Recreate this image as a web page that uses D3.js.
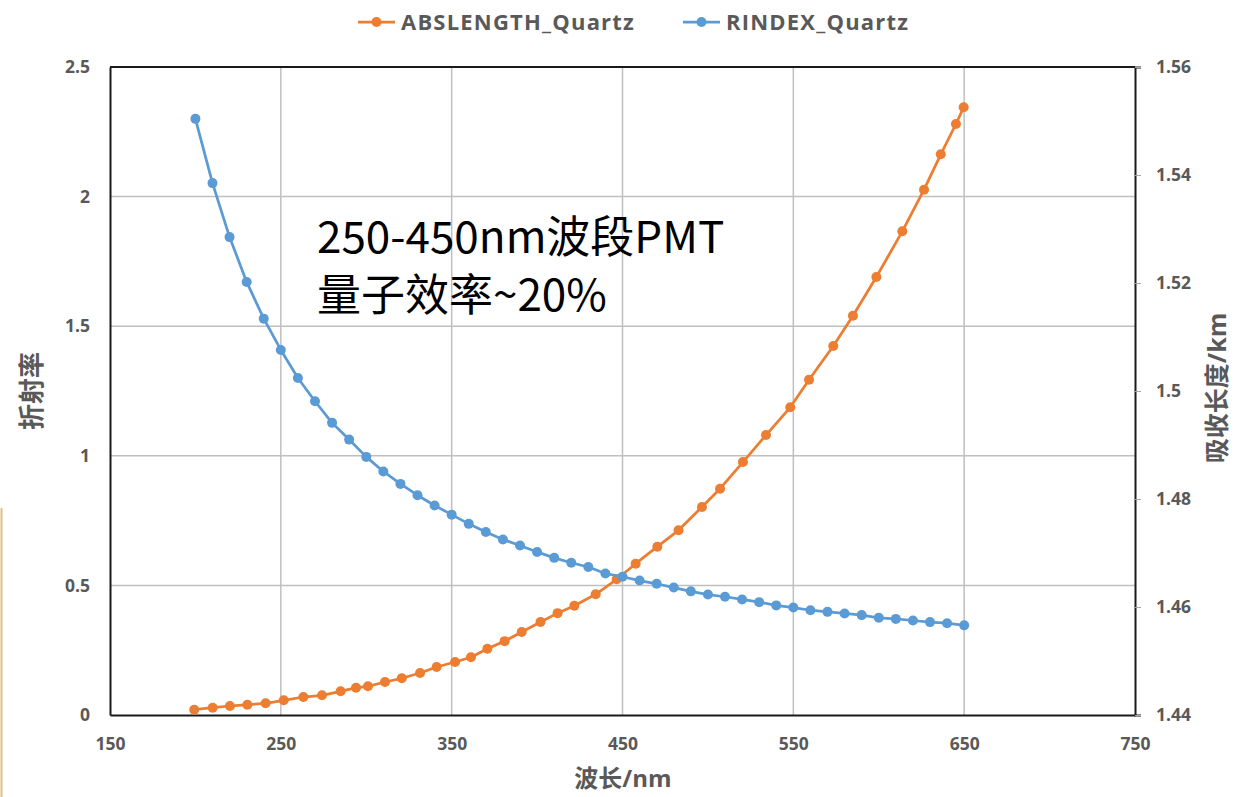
<!DOCTYPE html>
<html>
<head>
<meta charset="utf-8">
<script src="https://cdn.jsdelivr.net/npm/d3@7"></script>
<style>
  html, body { margin: 0; padding: 0; background: #fff; }
  svg { display: block; }
</style>
</head>
<body>
<svg id="chart" width="1237" height="797"></svg>
<script>
// Wavelength grid of the refractive-index table (nm)
const rindexWavelength = [200, 210, 220, 230, 240, 250, 260, 270, 280, 290, 300, 310, 320, 330, 340,
  350, 360, 370, 380, 390, 400, 410, 420, 430, 440, 450, 460, 470, 480, 490, 500, 510, 520, 530,
  540, 550, 560, 570, 580, 590, 600, 610, 620, 630, 640, 650];
// Refractive index of quartz (plotted against the right-hand scale)
const rindexQuartz = [1.5504, 1.5385, 1.5285, 1.5202, 1.5134, 1.5076, 1.5024, 1.4981, 1.4941, 1.4910,
  1.4878, 1.4851, 1.4828, 1.4807, 1.4788, 1.4771, 1.4754, 1.4739, 1.4725, 1.4714, 1.4702, 1.4691,
  1.4682, 1.4674, 1.4662, 1.4656, 1.4649, 1.4643, 1.4636, 1.4629, 1.4623, 1.4619, 1.4614, 1.4609,
  1.4603, 1.4599, 1.4594, 1.4591, 1.4588, 1.4585, 1.4580, 1.4578, 1.4575, 1.4572, 1.4570, 1.4566];

// Wavelength grid of the absorption-length table (nm)
const absWavelength = [199.3, 210.1, 220.2, 230.4, 241.1, 251.7, 263.2, 274.1, 285.0, 294.0, 301.0,
  311.0, 320.8, 331.5, 341.2, 352.0, 361.3, 370.9, 381.0, 391.0, 402.0, 412.0, 421.8, 434.3, 446.6,
  457.7, 470.4, 482.8, 496.5, 507.1, 520.5, 534.0, 548.2, 559.2, 573.4, 584.9, 598.6, 613.8, 626.5,
  636.3, 645.2, 649.7];
// Absorption length of quartz (plotted against the left-hand scale)
const absLengthQuartz = [0.0204, 0.0282, 0.0347, 0.0397, 0.0451, 0.0567, 0.0694, 0.0760, 0.0914,
  0.1053, 0.1107, 0.1273, 0.1416, 0.1620, 0.1852, 0.2045, 0.2226, 0.2558, 0.2850, 0.3200, 0.3590,
  0.3930, 0.4217, 0.4657, 0.5235, 0.5837, 0.6493, 0.7126, 0.8025, 0.8731, 0.9760, 1.0800, 1.1871,
  1.2936, 1.4236, 1.5405, 1.6898, 1.8661, 2.0266, 2.1632, 2.2801, 2.3445];

const xTicks = [150, 250, 350, 450, 550, 650, 750];
const leftTicks = [0, 0.5, 1, 1.5, 2, 2.5];
const rightTicks = [1.44, 1.46, 1.48, 1.5, 1.52, 1.54, 1.56];

const seriesNames = ["ABSLENGTH_Quartz", "RINDEX_Quartz"];
const xTitle = "波长/nm";
const leftTitle = "折射率";
const rightTitle = "吸收长度/km";
const noteLines = ["250-450nm波段PMT", "量子效率~20%"];

const ORANGE = "#ED7D31";
const BLUE = "#5B9BD5";
const AXIS_TEXT = "#595959";
const GRID = "#BFBFBF";
const LABEL_FONT = "'Open Sans', 'Noto Sans CJK SC', sans-serif";

const svg = d3.select("#chart");
const plot = { left: 110, right: 1135, top: 67, bottom: 715 };

const x = d3.scaleLinear().domain([150, 750]).range([plot.left, plot.right]);
const yLeft = d3.scaleLinear().domain([0, 2.5]).range([plot.bottom, plot.top]);
const yRight = d3.scaleLinear().domain([1.44, 1.56]).range([plot.bottom, plot.top]);

// faint edge line at the far left of the canvas
svg.append("line")
  .attr("x1", 1.5).attr("x2", 1.5).attr("y1", 508).attr("y2", 797)
  .attr("stroke", "#E3BE7E").attr("stroke-width", 2);

// gridlines
const grid = svg.append("g");
grid.selectAll("line.v").data(xTicks.slice(1, -1)).join("line")
  .attr("x1", d => x(d)).attr("x2", d => x(d))
  .attr("y1", plot.top).attr("y2", plot.bottom)
  .attr("stroke", GRID).attr("stroke-width", 1.5);
grid.selectAll("line.h").data(leftTicks.slice(1, -1)).join("line")
  .attr("x1", plot.left).attr("x2", plot.right)
  .attr("y1", d => yLeft(d)).attr("y2", d => yLeft(d))
  .attr("stroke", GRID).attr("stroke-width", 1.5);

// axes
const xAxis = svg.append("g")
  .attr("transform", `translate(0,${plot.bottom})`)
  .call(d3.axisBottom(x).tickValues(xTicks).tickSize(0).tickPadding(23));
const leftAxis = svg.append("g")
  .attr("transform", `translate(${plot.left},0)`)
  .call(d3.axisLeft(yLeft).tickValues(leftTicks).tickSize(0).tickPadding(20).tickFormat(d3.format("")));
const rightAxis = svg.append("g")
  .attr("transform", `translate(${plot.right},0)`)
  .call(d3.axisRight(yRight).tickValues(rightTicks).tickSize(6).tickPadding(15).tickFormat(d3.format("")));

[xAxis, leftAxis, rightAxis].forEach(g => {
  g.select(".domain").attr("stroke", "#1a1a1a").attr("stroke-width", 2);
  g.selectAll("text")
    .attr("fill", AXIS_TEXT)
    .style("font-family", LABEL_FONT)
    .style("font-weight", 700)
    .style("font-size", "17.5px");
});
rightAxis.selectAll(".tick line").attr("stroke", "#A6A6A6").attr("stroke-width", 1);
xAxis.selectAll("text").attr("dy", "0.71em");

// top border
svg.append("line")
  .attr("x1", plot.left).attr("x2", plot.right)
  .attr("y1", plot.top).attr("y2", plot.top)
  .attr("stroke", "#1a1a1a").attr("stroke-width", 2);

// series
const absData = absWavelength.map((w, i) => ({ w, v: absLengthQuartz[i] }));
const rindexData = rindexWavelength.map((w, i) => ({ w, v: rindexQuartz[i] }));

function drawSeries(data, yScale, color) {
  const g = svg.append("g");
  g.append("path")
    .datum(data)
    .attr("fill", "none")
    .attr("stroke", color)
    .attr("stroke-width", 2.75)
    .attr("stroke-linejoin", "round")
    .attr("d", d3.line().x(d => x(d.w)).y(d => yScale(d.v)));
  g.selectAll("circle").data(data).join("circle")
    .attr("cx", d => x(d.w)).attr("cy", d => yScale(d.v))
    .attr("r", 5).attr("fill", color);
}
drawSeries(absData, yLeft, ORANGE);
drawSeries(rindexData, yRight, BLUE);

// axis titles
svg.append("text")
  .attr("x", 623).attr("y", 787)
  .attr("text-anchor", "middle")
  .attr("fill", AXIS_TEXT)
  .style("font-family", LABEL_FONT).style("font-weight", 700).style("font-size", "24px")
  .text(xTitle);
svg.append("text")
  .attr("transform", "translate(41,391) rotate(-90)")
  .attr("text-anchor", "middle")
  .attr("fill", AXIS_TEXT)
  .style("font-family", LABEL_FONT).style("font-weight", 700).style("font-size", "26px")
  .text(leftTitle);
svg.append("text")
  .attr("transform", "translate(1226,388) rotate(-90)")
  .attr("text-anchor", "middle")
  .attr("fill", AXIS_TEXT)
  .style("font-family", LABEL_FONT).style("font-weight", 700).style("font-size", "25px")
  .text(rightTitle);

// legend
const legend = [
  { name: seriesNames[0], color: ORANGE, x0: 358 },
  { name: seriesNames[1], color: BLUE, x0: 683 }
];
const lg = svg.append("g");
legend.forEach(item => {
  lg.append("line")
    .attr("x1", item.x0).attr("x2", item.x0 + 37)
    .attr("y1", 22).attr("y2", 22)
    .attr("stroke", item.color).attr("stroke-width", 2.75);
  lg.append("circle")
    .attr("cx", item.x0 + 18.5).attr("cy", 22).attr("r", 5).attr("fill", item.color);
  lg.append("text")
    .attr("x", item.x0 + 43).attr("y", 30)
    .attr("fill", AXIS_TEXT)
    .style("font-family", LABEL_FONT).style("font-weight", 700).style("font-size", "22px")
    .style("letter-spacing", "1.2px")
    .text(item.name);
});

// annotation
const note = svg.append("text")
  .attr("fill", "#000")
  .style("font-family", "'Noto Sans CJK SC', 'Noto Sans', sans-serif")
  .style("font-size", "44px");
noteLines.forEach((line, i) => {
  note.append("tspan").attr("x", 317).attr("y", 253 + i * 58).text(line);
});
</script>
</body>
</html>
